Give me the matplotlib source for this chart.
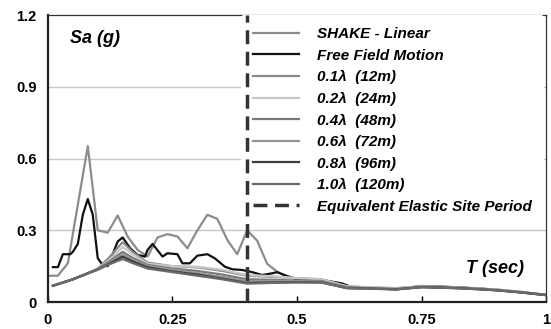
import numpy as np
import matplotlib
matplotlib.use("Agg")
import matplotlib.pyplot as plt

plt.rcParams['font.family'] = ['Liberation Sans', 'DejaVu Sans']
plt.rcParams['font.weight'] = 'bold'

# SHAKE - Linear
t_shake = [0.0, 0.02, 0.04, 0.08, 0.10, 0.12, 0.14, 0.16, 0.18, 0.20, 0.22, 0.24,
           0.26, 0.28, 0.30, 0.32, 0.34, 0.36, 0.38, 0.40, 0.42, 0.44, 0.46, 0.48,
           0.50, 0.55, 0.60, 0.65, 0.70, 0.75, 0.80, 0.85, 0.90, 0.95, 1.0]
sa_shake = [0.11, 0.11, 0.162, 0.652, 0.30, 0.29, 0.362, 0.274, 0.218, 0.19, 0.27, 0.284,
            0.274, 0.225, 0.30, 0.365, 0.348, 0.26, 0.20, 0.30, 0.257, 0.16, 0.127, 0.105,
            0.098, 0.092, 0.066, 0.06, 0.057, 0.066, 0.063, 0.058, 0.052, 0.042, 0.03]

# Free Field Motion
t_free = [0.01, 0.02, 0.03, 0.045, 0.05, 0.06, 0.07, 0.08, 0.09, 0.10, 0.11, 0.12,
          0.13, 0.14, 0.15, 0.165, 0.18, 0.195, 0.20, 0.21, 0.23, 0.24, 0.26, 0.27,
          0.285, 0.30, 0.32, 0.335, 0.355, 0.37, 0.39, 0.41, 0.43, 0.45, 0.46, 0.48,
          0.50, 0.52, 0.56, 0.59, 0.61, 0.66, 0.70, 0.75, 0.82, 0.89, 0.94, 1.0]
sa_free = [0.146, 0.146, 0.2, 0.2, 0.21, 0.243, 0.365, 0.431, 0.365, 0.183, 0.155, 0.15,
           0.20, 0.253, 0.27, 0.225, 0.197, 0.19, 0.218, 0.243, 0.19, 0.204, 0.20, 0.162,
           0.162, 0.194, 0.2, 0.183, 0.148, 0.137, 0.134, 0.125, 0.113, 0.12, 0.125, 0.109,
           0.095, 0.092, 0.089, 0.078, 0.062, 0.057, 0.053, 0.067, 0.062, 0.053, 0.043, 0.029]

# embedded foundation cases
t_emb = [0.01, 0.05, 0.08, 0.10, 0.12, 0.15, 0.17, 0.20, 0.25, 0.30, 0.35, 0.40,
         0.45, 0.50, 0.55, 0.60, 0.65, 0.70, 0.75, 0.80, 0.85, 0.90, 0.95, 1.0]
sa_01 = [0.068, 0.095, 0.12, 0.14, 0.18, 0.25, 0.21, 0.165, 0.15, 0.145, 0.13, 0.11,
         0.105, 0.1, 0.095, 0.065, 0.06, 0.058, 0.065, 0.062, 0.058, 0.052, 0.042, 0.03]
sa_02 = [0.068, 0.095, 0.12, 0.14, 0.17, 0.23, 0.2, 0.16, 0.15, 0.148, 0.135, 0.113,
         0.108, 0.1, 0.095, 0.066, 0.061, 0.058, 0.066, 0.063, 0.058, 0.052, 0.042, 0.03]
sa_04 = [0.068, 0.095, 0.12, 0.138, 0.165, 0.21, 0.185, 0.155, 0.14, 0.13, 0.115, 0.095,
         0.093, 0.09, 0.088, 0.062, 0.058, 0.055, 0.064, 0.061, 0.057, 0.05, 0.041, 0.03]
sa_06 = [0.068, 0.095, 0.12, 0.137, 0.16, 0.20, 0.178, 0.15, 0.135, 0.122, 0.105, 0.088,
         0.088, 0.087, 0.085, 0.06, 0.057, 0.054, 0.063, 0.06, 0.056, 0.05, 0.04, 0.029]
sa_08 = [0.068, 0.095, 0.12, 0.136, 0.157, 0.19, 0.17, 0.145, 0.128, 0.115, 0.098, 0.08,
         0.082, 0.083, 0.082, 0.058, 0.056, 0.053, 0.062, 0.06, 0.055, 0.049, 0.04, 0.029]
sa_10 = [0.068, 0.095, 0.12, 0.135, 0.155, 0.18, 0.163, 0.14, 0.125, 0.11, 0.095, 0.077,
         0.08, 0.082, 0.081, 0.058, 0.055, 0.053, 0.062, 0.059, 0.055, 0.049, 0.04, 0.029]

site_period = 0.4
xticks = [0, 0.25, 0.5, 0.75, 1]
xticklabels = ['0', '0.25', '0.5', '0.75', '1']
yticks = [0, 0.3, 0.6, 0.9, 1.2]
yticklabels = ['0', '0.3', '0.6', '0.9', '1.2']

fig = plt.figure(figsize=(5.51, 3.29), dpi=100)
ax = fig.add_axes([0.087, 0.082, 0.904, 0.872])

ax.plot(t_shake, sa_shake, color='#8c8c8c', lw=1.6, label='SHAKE - Linear')
ax.plot(t_free, sa_free, color='#111111', lw=1.6, label='Free Field Motion')
ax.plot(t_emb, sa_01, color='#8a8a8a', lw=1.6, label='0.1λ  (12m)')
ax.plot(t_emb, sa_02, color='#c8c8c8', lw=1.6, label='0.2λ  (24m)')
ax.plot(t_emb, sa_04, color='#7a7a7a', lw=1.6, label='0.4λ  (48m)')
ax.plot(t_emb, sa_06, color='#969696', lw=1.6, label='0.6λ  (72m)')
ax.plot(t_emb, sa_08, color='#3c3c3c', lw=1.6, label='0.8λ  (96m)')
ax.plot(t_emb, sa_10, color='#6a6a6a', lw=1.6, label='1.0λ  (120m)')
ax.axvline(site_period, color='#333333', lw=2.5, dashes=(4, 2.2), zorder=6,
           label='Equivalent Elastic Site Period')

for g in yticks[1:-1]:
    ax.axhline(g, color='#c8c8c8', lw=1.0, zorder=0)

ax.set_xlim(0, 1)
ax.set_ylim(0, 1.2)
ax.set_xticks(xticks)
ax.set_xticklabels(xticklabels)
ax.set_yticks(yticks)
ax.set_yticklabels(yticklabels)
ax.tick_params(axis='x', direction='in', length=4, width=1, pad=8, labelsize=10.5)
ax.tick_params(axis='y', length=0, pad=8, labelsize=10.5)

for s in ['left', 'bottom']:
    ax.spines[s].set_linewidth(1.6)
    ax.spines[s].set_color('#222222')
for s in ['top', 'right']:
    ax.spines[s].set_linewidth(0.9)
    ax.spines[s].set_color('#333333')

leg = ax.legend(loc='upper left', bbox_to_anchor=(0.388, 1.0), borderaxespad=0,
                frameon=True, facecolor='white', edgecolor='none', framealpha=1,
                handlelength=3.0, handletextpad=1.15, labelspacing=0.49,
                borderpad=0.8, prop={'style': 'italic', 'weight': 'bold', 'size': 11})

ax.text(0.045, 0.92, 'Sa (g)', transform=ax.transAxes, fontsize=13,
        fontstyle='italic', fontweight='bold', va='center', ha='left')
ax.text(0.955, 0.118, 'T (sec)', transform=ax.transAxes, fontsize=13,
        fontstyle='italic', fontweight='bold', va='center', ha='right')

fig.savefig('out.png', dpi=100)
